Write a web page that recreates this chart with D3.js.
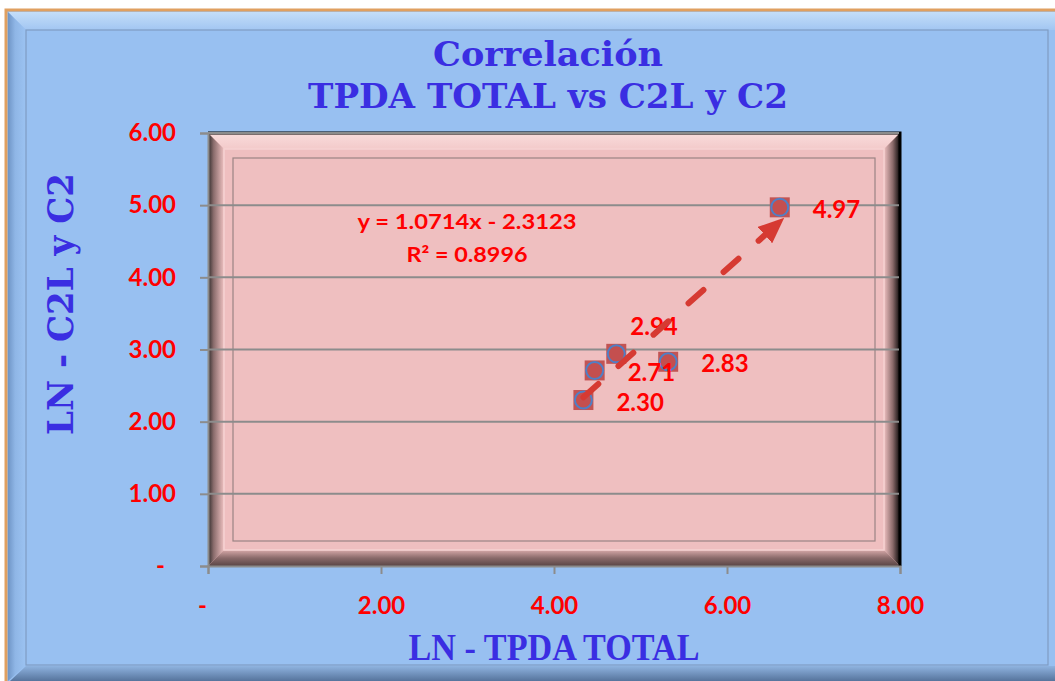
<!DOCTYPE html>
<html>
<head>
<meta charset="utf-8">
<script src="https://cdn.jsdelivr.net/npm/d3@7"></script>
<style>
  body { margin: 0; background: #fff; }
  svg { display: block; }
</style>
</head>
<body>
<div class="chart"></div>
<script>
// values
var lnTpda = [4.34, 4.47, 4.72, 5.32, 6.61];
var lnC2 = [2.30, 2.71, 2.94, 2.83, 4.97];
var labelSide = ["right", "right", "above", "right", "right"];
var slope = 1.0714, intercept = -2.3123, r2 = 0.8996;
var xTicks = [0, 2, 4, 6, 8];
var yTicks = [0, 1, 2, 3, 4, 5, 6];
var titleLines = ["Correlación", "TPDA TOTAL vs C2L y C2"];
var xTitle = "LN - TPDA TOTAL";
var yTitle = "LN  - C2L y C2";

var W = 1055, H = 681;
var blue = "#3a2ee2", red = "#ff0000";

var svg = d3.select(".chart").append("svg")
    .attr("width", W).attr("height", H);
var defs = svg.append("defs");

function grad(id, x1, y1, x2, y2, stops) {
    var g = defs.append("linearGradient").attr("id", id)
        .attr("x1", x1).attr("y1", y1).attr("x2", x2).attr("y2", y2);
    stops.forEach(function(s) {
        g.append("stop").attr("offset", s[0]).attr("stop-color", s[1]);
    });
}

// outer frame -------------------------------------------------------
svg.append("rect").attr("x", 0).attr("y", 0).attr("width", W).attr("height", H).attr("fill", "#fff");
svg.append("rect").attr("x", 6).attr("y", 10).attr("width", W + 10).attr("height", H + 10)
    .attr("fill", "#98c0f1").attr("stroke", "#e0a060").attr("stroke-width", 3);

grad("bTop", 0, 0, 0, 1, [[0, "#c4def9"], [1, "#a2c6f2"]]);
grad("bLeft", 0, 0, 1, 0, [[0, "#6f95c6"], [0.4, "#8fb6e6"], [1, "#9cc3f2"]]);
grad("bBot", 0, 0, 0, 1, [[0, "#8fb3e0"], [1, "#56749c"]]);

svg.append("path").attr("d", "M8,12 L1055,12 L1055,30 L26,30 Z").attr("fill", "url(#bTop)");
svg.append("path").attr("d", "M8,12 L26,30 L26,665 L8,681 Z").attr("fill", "url(#bLeft)");
svg.append("path").attr("d", "M26,666 L1055,666 L1055,681 L10,681 Z").attr("fill", "url(#bBot)");
svg.append("rect").attr("x", 26).attr("y", 30).attr("width", 1022).attr("height", 635)
    .attr("fill", "none").attr("stroke", "#7f9cc4").attr("stroke-width", 1.2);

// scales ------------------------------------------------------------
var x = d3.scaleLinear().domain([0, 8]).range([208, 900]);
var y = d3.scaleLinear().domain([0, 6]).range([566, 133]);
var fmt = function(d) { return d === 0 ? "-" : d3.format(".2f")(d); };

// plot area with bevel ---------------------------------------------
var px0 = x(0), px1 = x(8), py0 = y(6), py1 = y(0), bv = 16;
svg.append("rect").attr("x", px0).attr("y", py0).attr("width", px1 - px0).attr("height", py1 - py0)
    .attr("fill", "#efbfc0");

grad("pTop", 0, 0, 0, 1, [[0, "#f9dcdc"], [1, "#f3caca"]]);
grad("pLeft", 0, 0, 1, 0, [[0, "#2e2a2a"], [0.35, "#8a6c6c"], [1, "#eec0c0"]]);
grad("pRight", 0, 0, 1, 0, [[0, "#eec0c0"], [0.55, "#8a6a6a"], [1, "#0a0808"]]);
grad("pBot", 0, 0, 0, 1, [[0, "#d6a8a8"], [0.5, "#8a6a6a"], [1, "#5a4646"]]);

svg.append("path").attr("d", "M" + px0 + "," + py0 + " L" + px1 + "," + py0 + " L" + (px1 - bv) + "," + (py0 + bv) +
    " L" + (px0 + bv) + "," + (py0 + bv) + " Z").attr("fill", "url(#pTop)");
svg.append("path").attr("d", "M" + px0 + "," + py0 + " L" + (px0 + bv) + "," + (py0 + bv) + " L" + (px0 + bv) + "," + (py1 - bv) +
    " L" + px0 + "," + py1 + " Z").attr("fill", "url(#pLeft)");
svg.append("path").attr("d", "M" + px1 + "," + py0 + " L" + (px1 - bv) + "," + (py0 + bv) + " L" + (px1 - bv) + "," + (py1 - bv) +
    " L" + px1 + "," + py1 + " Z").attr("fill", "url(#pRight)");
svg.append("path").attr("d", "M" + px0 + "," + py1 + " L" + (px0 + bv) + "," + (py1 - bv) + " L" + (px1 - bv) + "," + (py1 - bv) +
    " L" + px1 + "," + py1 + " Z").attr("fill", "url(#pBot)");
svg.append("rect").attr("x", px0 + bv).attr("y", py0 + bv).attr("width", px1 - px0 - 2 * bv).attr("height", py1 - py0 - 2 * bv)
    .attr("fill", "none").attr("stroke", "#f6d2d2").attr("stroke-width", 1.5);
svg.append("rect").attr("x", px0 + 25).attr("y", py0 + 25).attr("width", px1 - px0 - 50).attr("height", py1 - py0 - 50)
    .attr("fill", "none").attr("stroke", "#9a8484").attr("stroke-width", 1.2);
// dark top/right rim
svg.append("path").attr("d", "M" + px0 + "," + py0 + " L" + px1 + "," + py0 + " L" + px1 + "," + py1)
    .attr("fill", "none").attr("stroke", "#000").attr("stroke-width", 3);

// gridlines
svg.append("g").selectAll("line").data(yTicks.filter(function(d) { return d > 0; }))
    .enter().append("line")
    .attr("x1", px0).attr("x2", px1 - 1)
    .attr("y1", function(d) { return y(d); }).attr("y2", function(d) { return y(d); })
    .attr("stroke", "#8c8c8c").attr("stroke-width", 2);

// axes --------------------------------------------------------------
var yAxis = svg.append("g").attr("transform", "translate(" + px0 + ",0)")
    .call(d3.axisLeft(y).tickValues(yTicks).tickFormat(fmt).tickSize(8).tickPadding(24));
var xAxis = svg.append("g").attr("transform", "translate(0," + py1 + ")")
    .call(d3.axisBottom(x).tickValues(xTicks).tickFormat(fmt).tickSize(8).tickPadding(22));

[yAxis, xAxis].forEach(function(a) {
    a.select(".domain").attr("stroke", "#8c8c8c").attr("stroke-width", 2);
    a.selectAll(".tick line").attr("stroke", "#8c8c8c").attr("stroke-width", 2);
    a.selectAll(".tick text").attr("fill", red)
        .style("font-family", "Lato, 'Open Sans', sans-serif")
        .style("font-weight", "bold").style("font-size", "24px");
});
xAxis.selectAll(".tick text").attr("dy", "0.75em");
// accounting-style dash for zero sits a little further out
yAxis.selectAll(".tick text").filter(function(d) { return d === 0; }).attr("dx", -11);
xAxis.selectAll(".tick text").filter(function(d) { return d === 0; }).attr("dx", -6);

// titles ------------------------------------------------------------
var serif = "'DejaVu Serif', 'Liberation Serif', serif";
var titleLens = [230, 480];
svg.append("g").selectAll("text").data(titleLines).enter().append("text")
    .attr("x", 548).attr("y", function(d, i) { return 66 + i * 42; })
    .attr("text-anchor", "middle")
    .attr("textLength", function(d, i) { return titleLens[i]; })
    .attr("lengthAdjust", "spacingAndGlyphs")
    .attr("fill", blue)
    .style("font-family", serif).style("font-weight", "bold").style("font-size", "34px")
    .text(function(d) { return d; });

svg.append("text")
    .attr("x", 554).attr("y", 660)
    .attr("text-anchor", "middle")
    .attr("textLength", 291).attr("lengthAdjust", "spacingAndGlyphs")
    .attr("fill", blue)
    .style("font-family", "'Liberation Serif', serif").style("font-weight", "bold").style("font-size", "37px")
    .text(xTitle);

svg.append("text")
    .attr("transform", "translate(73,304) rotate(-90)")
    .attr("text-anchor", "middle")
    .attr("textLength", 262).attr("lengthAdjust", "spacingAndGlyphs")
    .attr("fill", blue)
    .style("font-family", serif).style("font-weight", "bold").style("font-size", "35px")
    .text(yTitle);

// points ------------------------------------------------------------
var pts = lnTpda.map(function(v, i) { return { x: v, y: lnC2[i], side: labelSide[i] }; });

var mk = svg.append("g").selectAll("g").data(pts).enter().append("g")
    .attr("transform", function(d) { return "translate(" + x(d.x) + "," + y(d.y) + ")"; });
mk.append("rect").attr("x", -10).attr("y", -10).attr("width", 20).attr("height", 20)
    .attr("fill", "#c25454");
mk.append("circle").attr("r", 8.5)
    .attr("fill", "#c44f4f").attr("stroke", "#4f7fc6").attr("stroke-width", 2);

svg.append("g").selectAll("text").data(pts).enter().append("text")
    .attr("x", function(d) { return x(d.x) + (d.side === "above" ? 14 : 33); })
    .attr("y", function(d) { return y(d.y) + (d.side === "above" ? -27 : 2); })
    .attr("dy", "0.36em")
    .attr("fill", red)
    .style("font-family", "Lato, 'Open Sans', sans-serif")
    .style("font-weight", "bold").style("font-size", "24px")
    .text(function(d) { return d3.format(".2f")(d.y); });

// equation
var eq = ["y = " + slope + "x - " + Math.abs(intercept), "R² = " + r2];
var eqLens = [219, 121];
svg.append("g").selectAll("text").data(eq).enter().append("text")
    .attr("x", 467).attr("y", function(d, i) { return 229 + i * 33; })
    .attr("text-anchor", "middle")
    .attr("textLength", function(d, i) { return eqLens[i]; })
    .attr("lengthAdjust", "spacingAndGlyphs")
    .attr("fill", red)
    .style("font-family", "Lato, 'Open Sans', sans-serif")
    .style("font-weight", "bold").style("font-size", "21px")
    .text(function(d) { return d; });

// trendline with arrow ------------------------------------------------
defs.append("marker").attr("id", "arrow")
    .attr("markerUnits", "userSpaceOnUse")
    .attr("viewBox", "0 0 26 22").attr("markerWidth", 26).attr("markerHeight", 22)
    .attr("refX", 20).attr("refY", 11).attr("orient", "auto")
    .append("path").attr("d", "M0,0 L26,11 L0,22 Z").attr("fill", "#d63a32");

var xMin = d3.min(lnTpda), xMax = d3.max(lnTpda);
var trend = [xMin, xMax].map(function(v) { return [x(v), y(slope * v + intercept)]; });
svg.append("path")
    .attr("d", d3.line()(trend))
    .attr("fill", "none").attr("stroke", "#d63a32").attr("stroke-width", 6)
    .attr("stroke-linecap", "round").attr("stroke-dasharray", "20 27")
    .attr("marker-end", "url(#arrow)");
</script>
</body>
</html>
